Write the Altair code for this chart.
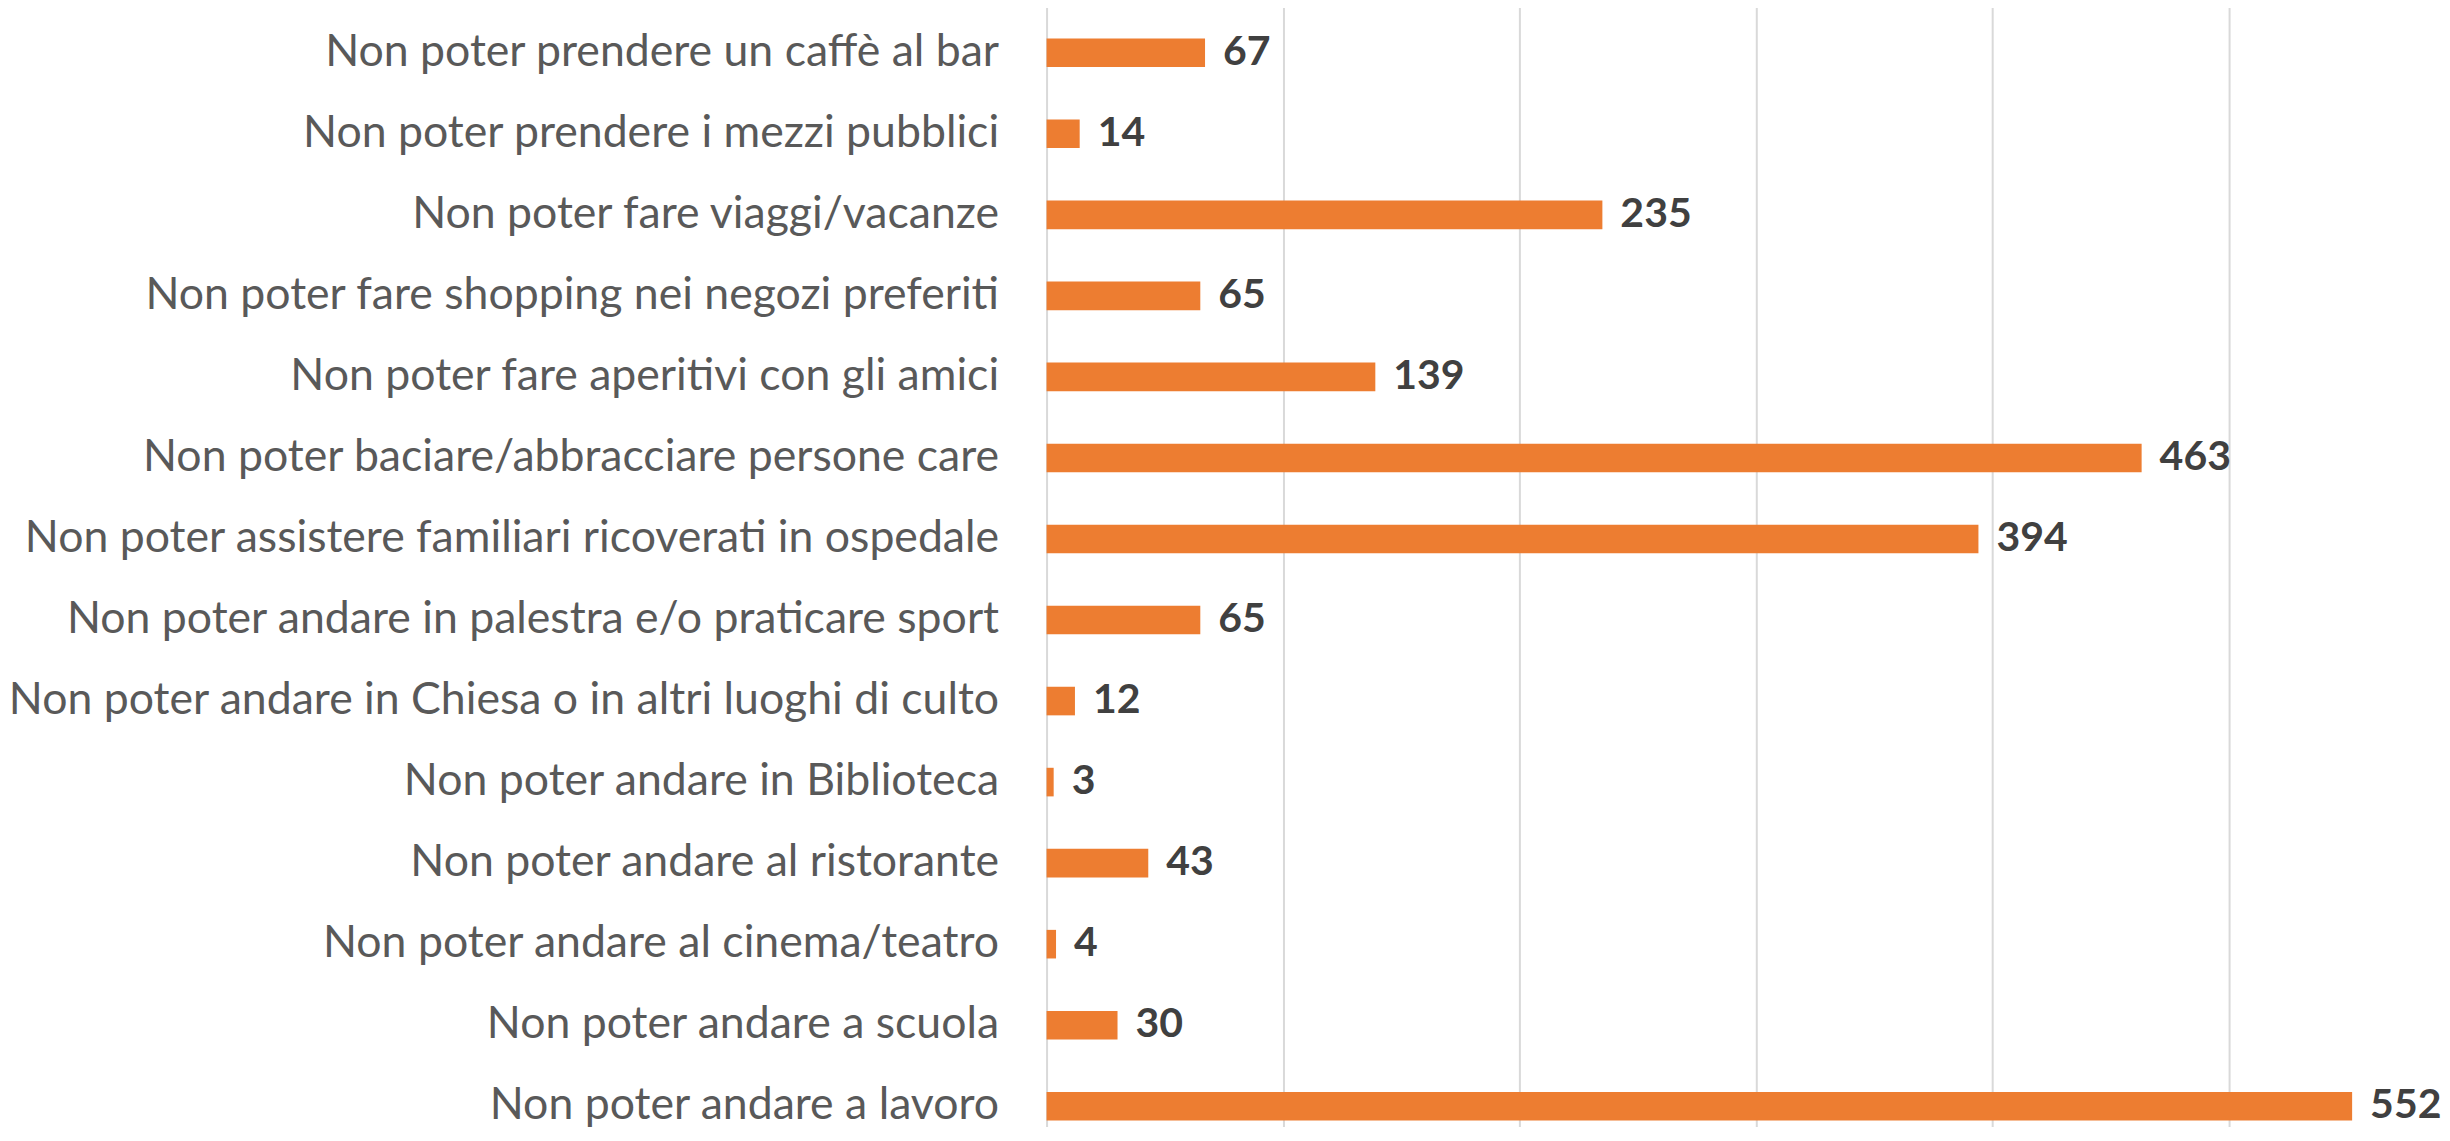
import altair as alt
import pandas as pd

categories = [
    "Non poter prendere un caffè al bar",
    "Non poter prendere i mezzi pubblici",
    "Non poter fare viaggi/vacanze",
    "Non poter fare shopping nei negozi preferiti",
    "Non poter fare aperitivi con gli amici",
    "Non poter baciare/abbracciare persone care",
    "Non poter assistere familiari ricoverati in ospedale",
    "Non poter andare in palestra e/o praticare sport",
    "Non poter andare in Chiesa o in altri luoghi di culto",
    "Non poter andare in Biblioteca",
    "Non poter andare al ristorante",
    "Non poter andare al cinema/teatro",
    "Non poter andare a scuola",
    "Non poter andare a lavoro",
]
values = [67, 14, 235, 65, 139, 463, 394, 65, 12, 3, 43, 4, 30, 552]
grid_values = [0, 100, 200, 300, 400, 500]

df = pd.DataFrame({"cat": categories, "val": values})

FONT = "Lato"

y_enc = alt.Y(
    "cat:N",
    sort=categories,
    scale=alt.Scale(range=[0, 1135], paddingInner=0.647, paddingOuter=0.3235),
    axis=alt.Axis(
        title=None, domain=False, ticks=False, labelPadding=48,
        labelFontSize=44.6, labelFont=FONT, labelColor="#595959",
        labelLimit=1100, grid=False, orient="left",
    ),
)
x_enc = alt.X(
    "val:Q",
    scale=alt.Scale(domain=[0, 590], nice=False, zero=True),
    axis=alt.Axis(
        title=None, labels=False, ticks=False, domain=False, orient="bottom",
        values=grid_values, grid=True, gridColor="#D9D9D9", gridWidth=2,
    ),
)

bars = alt.Chart(df).mark_bar(color="#ED7D31").encode(x=x_enc, y=y_enc)
text = alt.Chart(df).mark_text(
    align="left", baseline="middle", dx=18, font=FONT, fontWeight="bold",
    fontSize=41, color="#404040",
).encode(x=x_enc, y=y_enc, text="val:Q")

chart = (
    alt.layer(bars, text)
    .properties(
        width=1396, height=1115,
        autosize=alt.AutoSizeParams(type="none"),
        padding={"left": 1039, "top": 4, "right": 0, "bottom": 0},
        view=alt.ViewBackground(stroke="transparent", strokeWidth=0, fill="transparent"),
    )
    .configure_view(strokeWidth=0, strokeOpacity=0, stroke="transparent")
    .configure_axis(domain=False, ticks=False)
    .configure(background="white")
)

chart.save("out.html", embed_options={"renderer": "svg", "actions": False})
